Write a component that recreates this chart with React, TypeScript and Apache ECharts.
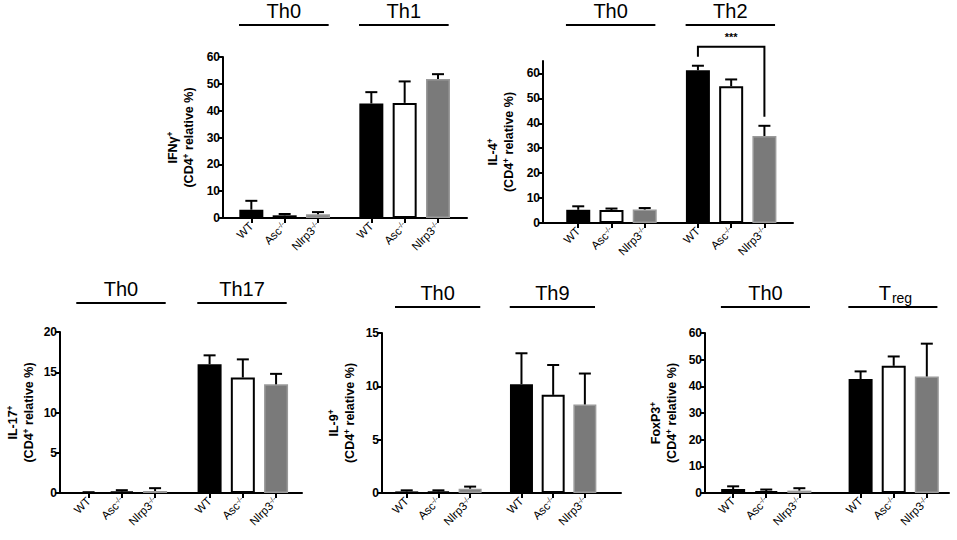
import React, { useEffect, useRef } from "react";
import * as echarts from "echarts";

const FONT = '"Liberation Sans", Arial, Helvetica, sans-serif';

// ---- data ----
const genotypes = ["WT", "Asc", "Nlrp3", "WT", "Asc", "Nlrp3"];
const knockout = [false, true, true, false, true, true];

const ifngMean = [3.1, 1.0, 1.4, 42.7, 42.9, 51.8];
const ifngUpper = [6.4, 1.5, 2.2, 46.9, 50.9, 53.6];

const il4Mean = [5.3, 5.2, 5.4, 61.3, 54.9, 34.9];
const il4Upper = [6.7, 5.8, 6.0, 63.1, 57.6, 39.0];

const il17Mean = [0.1, 0.2, 0.25, 16.0, 14.35, 13.5];
const il17Upper = [0.1, 0.35, 0.6, 17.1, 16.6, 14.8];

const il9Mean = [0.15, 0.15, 0.4, 10.2, 9.2, 8.3];
const il9Upper = [0.25, 0.25, 0.6, 13.1, 12.0, 11.2];

const foxp3Mean = [1.5, 0.7, 0.9, 42.75, 47.7, 43.7];
const foxp3Upper = [2.5, 1.3, 1.8, 45.6, 51.2, 56.0];

const ifngGroups = ["Th0", "Th1"];
const il4Groups = ["Th0", "Th2"];
const il17Groups = ["Th0", "Th17"];
const il9Groups = ["Th0", "Th9"];
const foxp3Groups = ["Th0", "Treg"];

const ifngTicks = [0, 10, 20, 30, 40, 50, 60];
const il4Ticks = [0, 10, 20, 30, 40, 50, 60];
const il17Ticks = [0, 5, 10, 15, 20];
const il9Ticks = [0, 5, 10, 15];
const foxp3Ticks = [0, 10, 20, 30, 40, 50, 60];

// significance bracket in IL-4 panel: [fromIndex, toIndex, bracketTop, leftLegEnd, rightLegEnd, label]
const il4Significance: [number, number, number, number, number, string][] = [[3, 5, 70.7, 66.7, 42.6, "***"]];

// ---- layout ----
const panels = [
  { marker: "IFNγ", mean: ifngMean, upper: ifngUpper, groups: ifngGroups, ticks: ifngTicks, yMax: 60,
    grid: { left: 223, top: 57, width: 244, height: 161 }, xMin: -0.85, xMax: 6.47, gap: 1.6, headerOffset: 32, nameGap: 26, barWidth: 24 },
  { marker: "IL-4", mean: il4Mean, upper: il4Upper, groups: il4Groups, ticks: il4Ticks, yMax: 65,
    grid: { left: 543, top: 61, width: 250, height: 162 }, xMin: -1.06, xMax: 6.46, gap: 1.6, headerOffset: 36, nameGap: 26, barWidth: 24 },
  { marker: "IL-17", mean: il17Mean, upper: il17Upper, groups: il17Groups, ticks: il17Ticks, yMax: 20,
    grid: { left: 60, top: 332, width: 242, height: 161 }, xMin: -0.86, xMax: 6.42, gap: 1.64, headerOffset: 29, nameGap: 23, barWidth: 24 },
  { marker: "IL-9", mean: il9Mean, upper: il9Upper, groups: il9Groups, ticks: il9Ticks, yMax: 15,
    grid: { left: 382, top: 333, width: 239, height: 160 }, xMin: -0.78, xMax: 6.76, gap: 1.62, headerOffset: 26, nameGap: 24, barWidth: 23 },
  { marker: "FoxP3", mean: foxp3Mean, upper: foxp3Upper, groups: foxp3Groups, ticks: foxp3Ticks, yMax: 60,
    grid: { left: 705, top: 333, width: 244, height: 160 }, xMin: -0.85, xMax: 6.52, gap: 1.85, headerOffset: 26, nameGap: 25, barWidth: 24 },
];

const barStyles = [
  { color: "#000000", borderColor: "#000000", borderWidth: 0 },
  { color: "#ffffff", borderColor: "#000000", borderWidth: 2 },
  { color: "#7a7a7a", borderColor: "#9a9a9a", borderWidth: 1.5 },
];

function buildOption() {
  const grid: any[] = [];
  const xAxis: any[] = [];
  const yAxis: any[] = [];
  const series: any[] = [];

  panels.forEach((p, k) => {
    // first group at 0,1,2; second group starts at 2 + gap
    const pos = genotypes.map((_, i) => (i < 3 ? i : i - 1 + p.gap));
    grid.push({ ...p.grid, containLabel: false });
    xAxis.push({
      type: "value",
      gridIndex: k,
      min: p.xMin,
      max: p.xMax,
      splitLine: { show: false },
      axisLine: { onZero: false, lineStyle: { color: "#000", width: 2 } },
      axisTick: { show: true, customValues: pos, length: 5, lineStyle: { color: "#000", width: 2 } },
      axisLabel: {
        customValues: pos,
        rotate: 45,
        margin: 6,
        formatter: (v: number) => {
          let idx = 0;
          let best = 1e9;
          pos.forEach((q, i) => {
            if (Math.abs(q - v) < best) {
              best = Math.abs(q - v);
              idx = i;
            }
          });
          return knockout[idx] ? `{n|${genotypes[idx]}}{s|-/-}` : `{n|${genotypes[idx]}}`;
        },
        rich: {
          n: { fontSize: 11.5, fontFamily: FONT, color: "#000" },
          s: { fontSize: 7.5, fontFamily: FONT, color: "#000", verticalAlign: "top" },
        },
      },
    });
    yAxis.push({
      type: "value",
      gridIndex: k,
      min: 0,
      max: p.yMax,
      splitLine: { show: false },
      name: `{b|${p.marker}}{e|+}\n{b|(CD4}{s|+}{b| relative %)}`,
      nameLocation: "middle",
      nameGap: p.nameGap,
      nameTextStyle: {
        rich: {
          b: { fontSize: 12.5, fontWeight: "bold", fontFamily: FONT, color: "#000", lineHeight: 16 },
          s: { fontSize: 8.5, fontWeight: "bold", fontFamily: FONT, color: "#000", verticalAlign: "top" },
          e: { fontSize: 8.5, fontWeight: "bold", fontFamily: FONT, color: "#000", verticalAlign: "top", padding: [0, 20, 0, 0] },
        },
      },
      axisLine: { show: true, onZero: false, lineStyle: { color: "#000", width: 2 } },
      axisTick: { show: true, customValues: p.ticks, length: 5, lineStyle: { color: "#000", width: 2 } },
      axisLabel: {
        customValues: p.ticks,
        margin: 3,
        formatter: (v: number) => `{v|${v}}`,
        rich: {
          v: { fontSize: 12, fontWeight: "bold", fontFamily: FONT, color: "#000" },
        },
      },
    });

    series.push({
      type: "bar",
      xAxisIndex: k,
      yAxisIndex: k,
      barWidth: p.barWidth,
      z: 2,
      data: p.mean.map((m, i) => ({ value: [pos[i], m], itemStyle: barStyles[i % 3] })),
    });

    series.push({
      type: "custom",
      xAxisIndex: k,
      yAxisIndex: k,
      z: 3,
      clip: false,
      data: p.mean.map((m, i) => [pos[i], m, p.upper[i]]),
      renderItem: (params: any, api: any) => {
        const a = api.coord([api.value(0), api.value(1)]);
        const b = api.coord([api.value(0), api.value(2)]);
        const st = { stroke: "#000", lineWidth: 2 };
        return {
          type: "group",
          children: [
            { type: "line", shape: { x1: a[0], y1: a[1], x2: b[0], y2: b[1] }, style: st },
            { type: "line", shape: { x1: b[0] - 6, y1: b[1], x2: b[0] + 6, y2: b[1] }, style: st },
          ],
        };
      },
    });

    // group headers
    const headerData = p.groups.map((g, gi) => [pos[gi * 3] - 0.37, pos[gi * 3 + 2] + 0.32, gi]);
    series.push({
      type: "custom",
      xAxisIndex: k,
      yAxisIndex: k,
      clip: false,
      silent: true,
      data: headerData,
      renderItem: (params: any, api: any) => {
        const x0 = api.coord([api.value(0), 0])[0];
        const x1 = api.coord([api.value(1), 0])[0];
        const top = params.coordSys.y;
        const ly = top - p.headerOffset;
        const label = p.groups[api.value(2)];
        const cx = (x0 + x1) / 2;
        const children: any[] = [
          { type: "line", shape: { x1: x0, y1: ly, x2: x1, y2: ly }, style: { stroke: "#000", lineWidth: 2 } },
        ];
        if (label === "Treg") {
          children.push({
            type: "text",
            style: { text: "T", x: cx - 2, y: ly - 14.5, align: "right", verticalAlign: "middle", fontSize: 20, fontFamily: FONT, fill: "#000" },
          });
          children.push({
            type: "text",
            style: { text: "reg", x: cx - 1, y: ly - 9.5, align: "left", verticalAlign: "middle", fontSize: 14, fontFamily: FONT, fill: "#000" },
          });
        } else {
          children.push({
            type: "text",
            style: { text: label, x: cx, y: ly - 14.5, align: "center", verticalAlign: "middle", fontSize: 20, fontFamily: FONT, fill: "#000" },
          });
        }
        return { type: "group", children };
      },
    });

    if (k === 1) {
      series.push({
        type: "custom",
        xAxisIndex: k,
        yAxisIndex: k,
        clip: false,
        silent: true,
        data: il4Significance.map((s) => [pos[s[0]], pos[s[1]], s[2], s[3], s[4]]),
        renderItem: (params: any, api: any) => {
          const xa = api.value(0);
          const xb = api.value(1);
          const pTopL = api.coord([xa, api.value(2)]);
          const pTopR = api.coord([xb, api.value(2)]);
          const pL = api.coord([xa, api.value(3)]);
          const pR = api.coord([xb, api.value(4)]);
          return {
            type: "group",
            children: [
              {
                type: "polyline",
                shape: { points: [pL, pTopL, pTopR, pR] },
                style: { stroke: "#000", lineWidth: 2, fill: null },
              },
              {
                type: "text",
                style: {
                  text: il4Significance[params.dataIndex][5],
                  x: (pTopL[0] + pTopR[0]) / 2,
                  y: pTopL[1] - 10,
                  align: "center",
                  verticalAlign: "middle",
                  fontSize: 11,
                  fontWeight: "bold",
                  fontFamily: FONT,
                  fill: "#000",
                },
              },
            ],
          };
        },
      });
    }
  });

  return {
    animation: false,
    backgroundColor: "#ffffff",
    textStyle: { fontFamily: FONT },
    grid,
    xAxis,
    yAxis,
    series,
  };
}

export default function App() {
  const ref = useRef<HTMLDivElement>(null);
  useEffect(() => {
    document.body.style.margin = "0";
    if (!ref.current) return;
    const chart = echarts.init(ref.current, null, { renderer: "svg" });
    chart.setOption(buildOption() as any);
    return () => chart.dispose();
  }, []);
  return <div ref={ref} style={{ width: 957, height: 540 }} />;
}
